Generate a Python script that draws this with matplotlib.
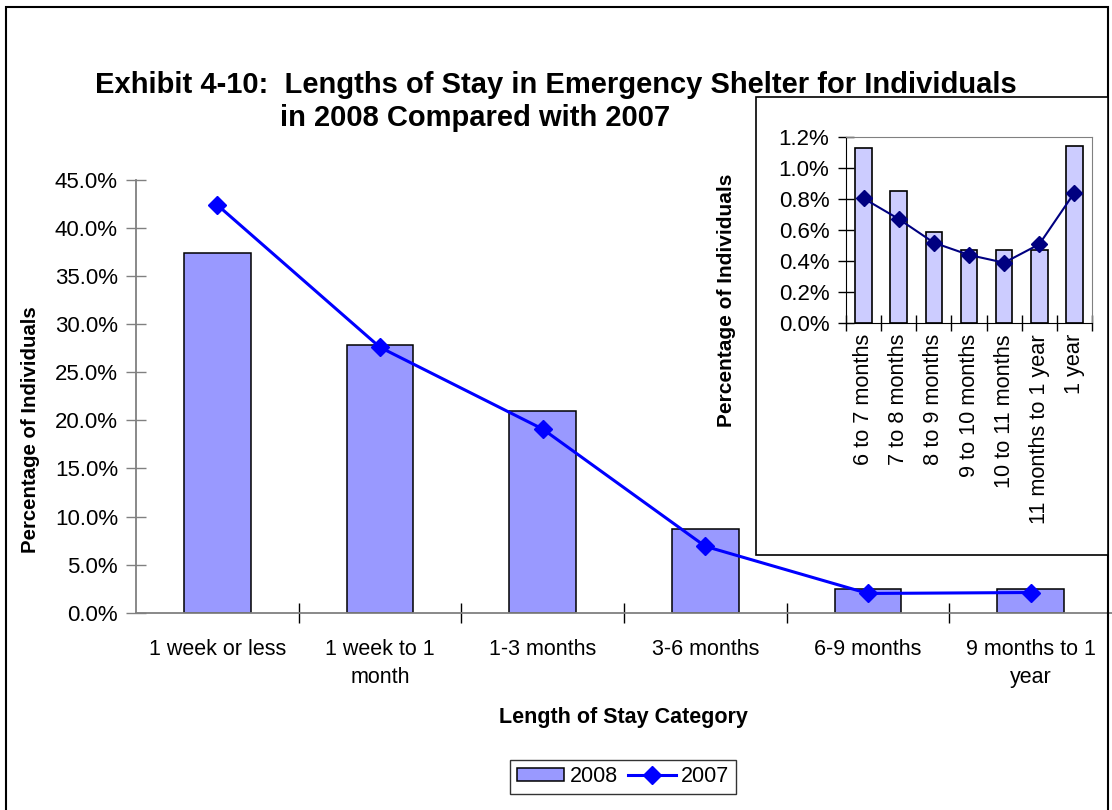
import matplotlib
matplotlib.use("Agg")
import matplotlib.pyplot as plt
from matplotlib.patches import Rectangle
from matplotlib.ticker import FuncFormatter

plt.rcParams['font.family'] = ['Liberation Sans', 'DejaVu Sans']

categories = ["1 week or less", "1 week to 1\nmonth", "1-3 months", "3-6 months",
              "6-9 months", "9 months to 1\nyear"]
values_2008 = [37.4, 27.8, 21.0, 8.75, 2.5, 2.5]
values_2007 = [42.4, 27.6, 19.1, 6.9, 2.0, 2.1]

inset_categories = ["6 to 7 months", "7 to 8 months", "8 to 9 months", "9 to 10 months",
                    "10 to 11 months", "11 months to 1 year", "1 year"]
inset_2008 = [1.13, 0.853, 0.587, 0.469, 0.469, 0.469, 1.14]
inset_2007 = [0.804, 0.671, 0.518, 0.439, 0.389, 0.508, 0.841]

W, H = 1112, 810
fig = plt.figure(figsize=(W / 100, H / 100), dpi=100)

def fr(x0, y0, x1, y1):
    return [x0 / W, 1 - y1 / H, (x1 - x0) / W, (y1 - y0) / H]

# outer border
fig.patches.append(Rectangle((6 / W, -0.05), (1108 - 6) / W, 1.05 - 7 / H,
                             transform=fig.transFigure, fill=False,
                             edgecolor='black', linewidth=1.5))

# title
fig.text(556 / W, 1 - 85 / H, "Exhibit 4-10:  Lengths of Stay in Emergency Shelter for Individuals",
         ha='center', va='center', fontsize=21, fontweight='bold')
fig.text(475 / W, 1 - 118 / H, "in 2008 Compared with 2007",
         ha='center', va='center', fontsize=21, fontweight='bold')

# main axes
ax = fig.add_axes(fr(136, 180, 1112, 612.7))
x = list(range(len(categories)))
bars = ax.bar(x, values_2008, width=0.41, color='#9999FF', edgecolor='black', linewidth=1.1,
              label='2008', zorder=2)
line, = ax.plot(x, values_2007, color='#0000FF', linewidth=2.2, marker='D', markersize=9,
                label='2007', zorder=3)
ax.set_xlim(-0.5, len(categories) - 0.5)
ax.set_ylim(0, 45)
ax.set_yticks([0, 5, 10, 15, 20, 25, 30, 35, 40, 45])
ax.yaxis.set_major_formatter(FuncFormatter(lambda v, p: f"{v:.1f}%"))
ax.set_xticks(x)
ax.set_xticklabels(categories, fontsize=15.5, linespacing=1.45)
ax.set_xticks([i + 0.5 for i in x[:-1]], minor=True)
ax.tick_params(axis='x', which='major', length=0, pad=19)
ax.tick_params(axis='x', which='minor', length=14, direction='inout', color='black', width=1)
ax.tick_params(axis='y', labelsize=16, length=14, direction='inout', color='#808080', width=1, pad=6)
for s in ['top', 'right']:
    ax.spines[s].set_visible(False)
for s in ['left', 'bottom']:
    ax.spines[s].set_color('#808080')
    ax.spines[s].set_linewidth(1.3)
ax.set_facecolor('none')
fig.text(31 / W, 1 - 430 / H, "Percentage of Individuals", rotation=90, ha='center',
         va='center', fontsize=14.7, fontweight='bold')
fig.text(623 / W, 1 - 717 / H, "Length of Stay Category", ha='center', va='center',
         fontsize=15.5, fontweight='bold')

leg = fig.legend([bars, line], ['2008', '2007'], loc='center',
                 bbox_to_anchor=(623 / W, 1 - 777 / H), ncol=2, fontsize=15.5,
                 frameon=True, fancybox=False, shadow=False, edgecolor='black',
                 handlelength=2.2, handleheight=0.55, handletextpad=0.25,
                 columnspacing=0.5, borderpad=0.3)
leg.get_frame().set_linewidth(1.0)

# inset box
fig.patches.append(Rectangle((756 / W, 1 - 555 / H), (1108 - 756) / W, (555 - 97) / H,
                             transform=fig.transFigure, facecolor='white',
                             edgecolor='black', linewidth=1.2, zorder=5))

ax2 = fig.add_axes(fr(846, 137, 1092, 323))
ax2.set_zorder(6)
xi = list(range(len(inset_categories)))
ax2.bar(xi, inset_2008, width=0.47, color='#CCCCFF', edgecolor='black', linewidth=1.2, zorder=2)
ax2.plot(xi, inset_2007, color='#000080', linewidth=1.5, marker='D', markersize=8, zorder=3)
ax2.set_xlim(-0.5, len(inset_categories) - 0.5)
ax2.set_ylim(0, 1.2)
ax2.set_yticks([0, 0.2, 0.4, 0.6, 0.8, 1.0, 1.2])
ax2.yaxis.set_major_formatter(FuncFormatter(lambda v, p: f"{v:.1f}%"))
ax2.set_xticks(xi)
ax2.set_xticklabels(inset_categories, rotation=90, fontsize=15.7)
ax2.set_xticks([i - 0.5 for i in xi] + [len(xi) - 0.5], minor=True)
ax2.tick_params(axis='x', which='major', length=0, pad=8)
ax2.tick_params(axis='x', which='minor', length=12, direction='inout', color='black', width=1)
ax2.tick_params(axis='y', labelsize=16, length=12, direction='inout', color='black', width=1, pad=6)
for s in ['top', 'right']:
    ax2.spines[s].set_color('#808080')
for s in ['left', 'bottom']:
    ax2.spines[s].set_color('black')
ax2.set_facecolor('white')
t = fig.text(727 / W, 1 - 300 / H, "Percentage of Individuals", rotation=90, ha='center',
             va='center', fontsize=15, fontweight='bold')
t.set_zorder(7)

fig.savefig("out.png", dpi=100)
